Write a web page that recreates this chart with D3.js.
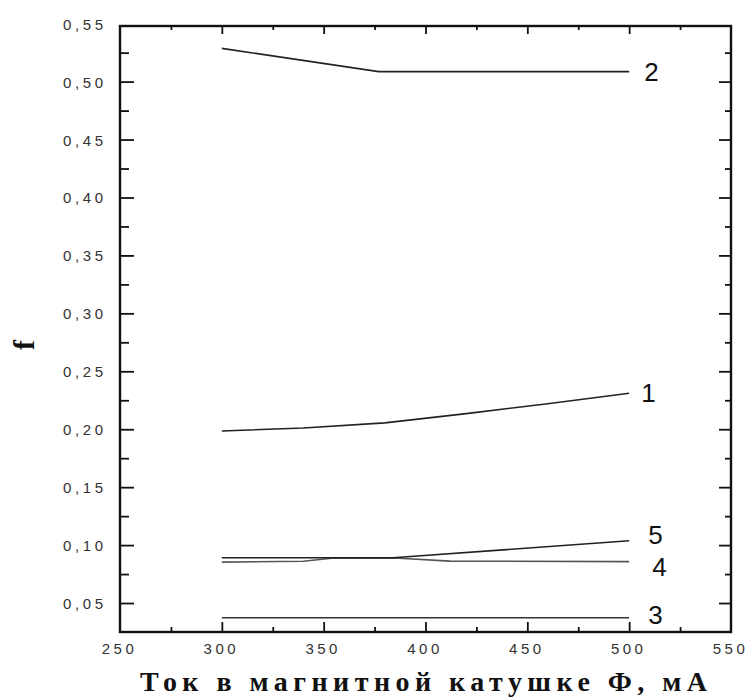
<!DOCTYPE html>
<html>
<head>
<meta charset="utf-8">
<script src="https://cdn.jsdelivr.net/npm/d3@7"></script>
<style>
  body { margin: 0; background: #fff; }
  svg { display: block; }
</style>
</head>
<body>
<div id="chart"></div>
<script>
// Series data (current in mA, f)
const seriesNames = ['1', '2', '3', '4', '5'];
const curve1 = [[300, 0.1985], [340, 0.2010], [380, 0.2055], [420, 0.2135], [460, 0.2220], [500, 0.2310]];
const curve2 = [[300, 0.5287], [377, 0.5086], [500, 0.5086]];
const curve3 = [[300, 0.0373], [500, 0.0373]];
const curve4 = [[300, 0.0853], [340, 0.0860], [355, 0.0888], [385, 0.0888], [412, 0.0862], [500, 0.0857]];
const curve5 = [[300, 0.0891], [384, 0.0891], [500, 0.1037]];

const xTicks = [250, 300, 350, 400, 450, 500, 550];
const xMinor = [275, 325, 375, 425, 475, 525];
const yTicks = [0.05, 0.10, 0.15, 0.20, 0.25, 0.30, 0.35, 0.40, 0.45, 0.50];
const yMinor = [0.075, 0.125, 0.175, 0.225, 0.275, 0.325, 0.375, 0.425, 0.475, 0.525];
const yLabels = [0.05, 0.10, 0.15, 0.20, 0.25, 0.30, 0.35, 0.40, 0.45, 0.50, 0.55];

const xTitle = 'Ток в магнитной катушке Ф, мА';
const yTitle = 'f';

const width = 748, height = 700;
const plot = { left: 120, right: 731, top: 26, bottom: 632 };

const svg = d3.select('#chart').append('svg')
    .attr('width', width)
    .attr('height', height);

const x = d3.scaleLinear().domain([250, 550]).range([plot.left, plot.right]);
const y = d3.scaleLinear().domain([0.025, 0.548]).range([plot.bottom, plot.top]);

const fmt = v => d3.format('.2f')(v).replace('.', ',');

// inward ticks on all four sides, built with d3 axes
function ticks(axis, pos, vals, size) {
    svg.append('g').attr('class', 'ax')
        .attr('transform', pos)
        .call(axis.tickValues(vals).tickSize(size).tickFormat(''));
}
ticks(d3.axisTop(x), `translate(0,${plot.bottom})`, xTicks.slice(1, -1), 10);
ticks(d3.axisTop(x), `translate(0,${plot.bottom})`, xMinor, 5);
ticks(d3.axisBottom(x), `translate(0,${plot.top})`, xTicks.slice(1, -1), 8);
ticks(d3.axisBottom(x), `translate(0,${plot.top})`, xMinor, 4);
ticks(d3.axisRight(y), `translate(${plot.left},0)`, yTicks, 14);
ticks(d3.axisRight(y), `translate(${plot.left},0)`, yMinor, 9);
ticks(d3.axisLeft(y), `translate(${plot.right},0)`, yTicks, 12);
ticks(d3.axisLeft(y), `translate(${plot.right},0)`, yMinor, 6);
svg.selectAll('.ax .domain').remove();
svg.selectAll('.ax line').attr('stroke', '#111').attr('stroke-width', 1.8);

// frame
svg.append('rect')
    .attr('x', plot.left).attr('y', plot.top)
    .attr('width', plot.right - plot.left).attr('height', plot.bottom - plot.top)
    .attr('fill', 'none')
    .attr('stroke', '#111')
    .attr('stroke-width', 2.4);

// tick labels
svg.append('g').selectAll('text').data(xTicks).join('text')
    .attr('x', d => x(d) - 0.5)
    .attr('y', 654)
    .attr('text-anchor', 'middle')
    .attr('font-family', 'Arial, "Liberation Sans", sans-serif')
    .attr('font-size', 15)
    .attr('letter-spacing', 3.5)
    .attr('fill', '#333')
    .text(d => d);

svg.append('g').selectAll('text').data(yLabels).join('text')
    .attr('x', 106.6)
    .attr('y', d => y(d) + 6)
    .attr('text-anchor', 'end')
    .attr('font-family', 'Arial, "Liberation Sans", sans-serif')
    .attr('font-size', 15)
    .attr('letter-spacing', 3.6)
    .attr('fill', '#333')
    .text(d => fmt(d));

// curves
const line = d3.line().x(d => x(d[0])).y(d => y(d[1]));
const curves = [curve1, curve2, curve3, curve4, curve5];
const strokes = ['#222', '#222', '#333', '#555', '#222'];

svg.append('g').selectAll('path').data(curves).join('path')
    .attr('d', line)
    .attr('fill', 'none')
    .attr('stroke', (d, i) => strokes[i])
    .attr('stroke-width', 1.6);

// curve numbers next to line ends
const labelShift = { '1': [12, 9], '2': [15, 9], '3': [19, 6], '4': [23, 14], '5': [19, 3] };
svg.append('g').selectAll('text').data(curves).join('text')
    .attr('x', (d, i) => x(d[d.length - 1][0]) + labelShift[seriesNames[i]][0])
    .attr('y', (d, i) => y(d[d.length - 1][1]) + labelShift[seriesNames[i]][1])
    .attr('font-family', 'Arial, "Liberation Sans", sans-serif')
    .attr('font-size', 26)
    .attr('fill', '#111')
    .text((d, i) => seriesNames[i]);

// axis titles
svg.append('text')
    .attr('x', 140)
    .attr('y', 691)
    .attr('textLength', 567)
    .attr('lengthAdjust', 'spacing')
    .attr('font-family', '"Liberation Serif", "Times New Roman", serif')
    .attr('font-weight', 'bold')
    .attr('font-size', 28)
    .attr('fill', '#111')
    .text(xTitle);

svg.append('text')
    .attr('transform', 'translate(23,345) rotate(-90)')
    .attr('text-anchor', 'middle')
    .attr('dominant-baseline', 'central')
    .attr('font-family', '"Liberation Serif", "Times New Roman", serif')
    .attr('font-weight', 'bold')
    .attr('font-size', 30)
    .attr('fill', '#111')
    .text(yTitle);
</script>
</body>
</html>
